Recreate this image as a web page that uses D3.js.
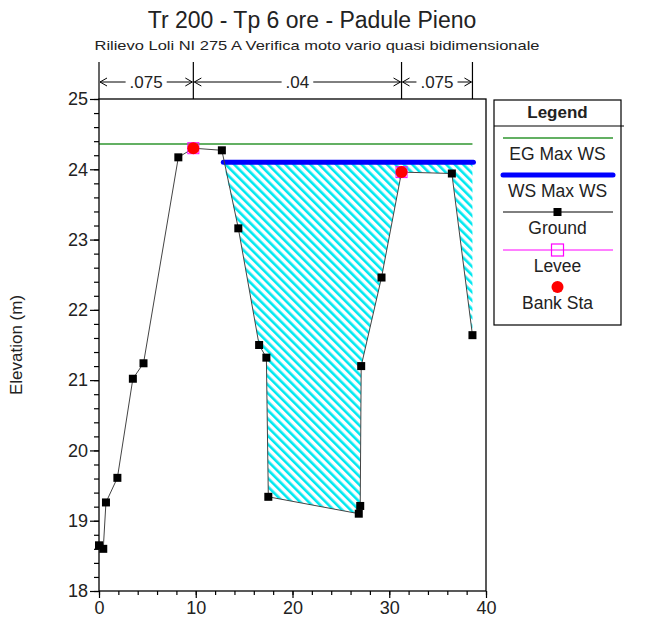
<!DOCTYPE html>
<html>
<head>
<meta charset="utf-8">
<script src="https://cdn.jsdelivr.net/npm/d3@7"></script>
<style>
  body { margin: 0; background: #fff; }
  text { font-family: "Liberation Sans", Arial, sans-serif; fill: #222; }
</style>
</head>
<body>
<svg id="chart" width="646" height="620"></svg>
<script>
// cross section data (station m, elevation m)
const stations = [0, 0.44, 0.72, 1.9, 3.5, 4.6, 8.2, 9.75, 12.7, 14.4, 16.55, 17.3, 17.5, 26.85, 27.0, 27.1, 29.2, 31.27, 36.47, 38.6];
const ground   = [18.65, 18.60, 19.26, 19.61, 21.02, 21.24, 24.17, 24.30, 24.27, 23.16, 21.50, 21.32, 19.34, 19.10, 19.21, 21.20, 22.46, 23.96, 23.94, 21.64];

const levee = [[9.75, 24.30], [31.27, 23.96]];
const bankSta = [[9.75, 24.30], [31.27, 23.96]];

const egMaxWs = 24.36, egRange = [0, 38.6];
const wsMaxWs = 24.10, wsRange = [12.85, 38.7];

// manning n values between break stations
const nBreaks = [0, 9.75, 31.27, 38.6];
const nValues = [".075", ".04", ".075"];

const xTicks = [0, 10, 20, 30, 40];
const yTicks = [18, 19, 20, 21, 22, 23, 24, 25];

const legendItems = ["EG Max WS", "WS Max WS", "Ground", "Levee", "Bank Sta"];

const svg = d3.select('#chart');
const pLeft = 99, pRight = 486, pTop = 99, pBottom = 591;

const x = d3.scaleLinear().domain([0, 40]).range([pLeft, pRight]);
const y = d3.scaleLinear().domain([18, 25]).range([pBottom, pTop]);

// hatch pattern for the water area
const defs = svg.append('defs');
const pat = defs.append('pattern')
    .attr('id', 'hatch')
    .attr('patternUnits', 'userSpaceOnUse')
    .attr('width', 6).attr('height', 6)
    .attr('patternTransform', 'rotate(-45)');
pat.append('rect').attr('width', 6).attr('height', 6).attr('fill', '#fff');
pat.append('line')
    .attr('x1', 0).attr('y1', 0).attr('x2', 0).attr('y2', 6)
    .attr('stroke', '#00e8f0').attr('stroke-width', 5.2);

// titles
svg.append('text').attr('x', 312).attr('y', 28)
    .attr('text-anchor', 'middle').style('font-size', '23px')
    .text('Tr 200 - Tp 6 ore - Padule Pieno');
svg.append('text').attr('x', 317).attr('y', 50)
    .attr('text-anchor', 'middle').style('font-size', '13.5px')
    .attr('textLength', 445).attr('lengthAdjust', 'spacingAndGlyphs')
    .text('Rilievo Loli NI 275 A  Verifica moto vario quasi bidimensionale');

// water polygon: WS line over the ground from the left crossing to the end
const pts = stations.map((s, i) => [s, ground[i]]);
const water = [[wsRange[0], wsMaxWs]].concat(pts.filter(p => p[0] > wsRange[0]));
svg.append('path')
    .datum(water)
    .attr('fill', 'url(#hatch)')
    .attr('d', d3.area().x(d => x(d[0])).y0(y(wsMaxWs)).y1(d => y(d[1])));

// EG line
svg.append('line')
    .attr('x1', x(egRange[0])).attr('x2', x(egRange[1]))
    .attr('y1', y(egMaxWs)).attr('y2', y(egMaxWs))
    .attr('stroke', '#2f962f').attr('stroke-width', 1.3);

// WS line
svg.append('line')
    .attr('x1', x(wsRange[0])).attr('x2', x(wsRange[1]))
    .attr('y1', y(wsMaxWs)).attr('y2', y(wsMaxWs))
    .attr('stroke', '#0000ff').attr('stroke-width', 5).attr('stroke-linecap', 'round');

// ground
svg.append('path')
    .datum(pts)
    .attr('fill', 'none').attr('stroke', '#444').attr('stroke-width', 1)
    .attr('d', d3.line().x(d => x(d[0])).y(d => y(d[1])));
svg.selectAll('.gpt').data(pts).enter().append('rect')
    .attr('x', d => x(d[0]) - 4).attr('y', d => y(d[1]) - 4)
    .attr('width', 8).attr('height', 8).attr('fill', '#000');

// levee and bank stations
svg.selectAll('.lev').data(levee).enter().append('rect')
    .attr('x', d => x(d[0]) - 5.5).attr('y', d => y(d[1]) - 5.5)
    .attr('width', 11).attr('height', 11)
    .attr('fill', 'none').attr('stroke', '#ff00ff').attr('stroke-width', 1);
svg.selectAll('.bank').data(bankSta).enter().append('circle')
    .attr('cx', d => x(d[0])).attr('cy', d => y(d[1])).attr('r', 6)
    .attr('fill', '#ff0000');

// frame
svg.append('rect').attr('x', pLeft).attr('y', pTop)
    .attr('width', pRight - pLeft).attr('height', pBottom - pTop)
    .attr('fill', 'none').attr('stroke', '#000').attr('stroke-width', 1.3);

// axes
const xAxis = svg.append('g').attr('transform', `translate(0,${pBottom})`);
xAxis.call(d3.axisBottom(x).tickValues(d3.range(0, 41, 2)).tickSize(4).tickFormat(''));
xAxis.call(g => g.selectAll('.domain').remove());
const xMaj = svg.append('g').attr('transform', `translate(0,${pBottom})`)
    .call(d3.axisBottom(x).tickValues(xTicks).tickSize(7).tickPadding(3).tickFormat(d3.format('d')));
xMaj.select('.domain').remove();
xMaj.selectAll('text').style('font-size', '18px').style('font-family', '"Liberation Sans", Arial, sans-serif').attr('fill', '#222');

const yAxis = svg.append('g').attr('transform', `translate(${pLeft},0)`);
yAxis.call(d3.axisLeft(y).tickValues(d3.range(18, 25.01, 0.2)).tickSize(5).tickFormat(''));
yAxis.call(g => g.selectAll('.domain').remove());
const yMaj = svg.append('g').attr('transform', `translate(${pLeft},0)`)
    .call(d3.axisLeft(y).tickValues(yTicks).tickSize(9).tickPadding(2).tickFormat(d3.format('d')));
yMaj.select('.domain').remove();
yMaj.selectAll('text').style('font-size', '18px').style('font-family', '"Liberation Sans", Arial, sans-serif').attr('fill', '#222');
svg.selectAll('.tick line').attr('stroke', '#000').attr('stroke-width', 1.2);

svg.append('text')
    .attr('transform', `translate(22,${(pTop + pBottom) / 2}) rotate(-90)`)
    .attr('text-anchor', 'middle').style('font-size', '17px')
    .text('Elevation (m)');

// n-value brackets above the plot
const nTop = 62, nMid = 82;
svg.selectAll('.nb').data(nBreaks).enter().append('line')
    .attr('x1', d => x(d)).attr('x2', d => x(d))
    .attr('y1', nTop).attr('y2', pTop)
    .attr('stroke', '#000').attr('stroke-width', 1.2);
nValues.forEach((v, i) => {
  const x0 = x(nBreaks[i]), x1 = x(nBreaks[i + 1]), cx = (x0 + x1) / 2;
  const t = svg.append('text').attr('x', cx).attr('y', nMid + 6)
      .attr('text-anchor', 'middle').style('font-size', '17px').text(v);
  const w = t.node().getComputedTextLength() / 2 + 4;
  const g = svg.append('g').attr('stroke', '#000').attr('stroke-width', 1).attr('fill', 'none');
  g.append('line').attr('x1', x0 + 1).attr('x2', cx - w).attr('y1', nMid).attr('y2', nMid);
  g.append('line').attr('x1', cx + w).attr('x2', x1 - 1).attr('y1', nMid).attr('y2', nMid);
  g.append('path').attr('d', `M${x0 + 8},${nMid - 4} L${x0 + 1},${nMid} L${x0 + 8},${nMid + 4}`);
  g.append('path').attr('d', `M${x1 - 8},${nMid - 4} L${x1 - 1},${nMid} L${x1 - 8},${nMid + 4}`);
});

// legend
const lg = svg.append('g');
const lx0 = 494, lx1 = 621, ly0 = 100, ly1 = 325;
lg.append('rect').attr('x', lx0).attr('y', ly0).attr('width', lx1 - lx0).attr('height', ly1 - ly0)
    .attr('fill', '#fff').attr('stroke', '#000').attr('stroke-width', 1.2);
lg.append('line').attr('x1', lx0).attr('x2', lx1 + 3).attr('y1', 126).attr('y2', 126)
    .attr('stroke', '#000').attr('stroke-width', 1.2);
lg.append('text').attr('x', (lx0 + lx1) / 2).attr('y', 118).attr('text-anchor', 'middle')
    .style('font-size', '17px').style('font-weight', 'bold').text('Legend');

const lcx = (lx0 + lx1) / 2, lxa = 503, lxb = 613;
const rowY = [138, 175, 212, 250, 287];
legendItems.forEach((name, i) => {
  const ry = rowY[i];
  if (i === 0) lg.append('line').attr('x1', lxa).attr('x2', lxb).attr('y1', ry).attr('y2', ry)
      .attr('stroke', '#2f962f').attr('stroke-width', 1.3);
  if (i === 1) lg.append('line').attr('x1', lxa).attr('x2', lxb).attr('y1', ry).attr('y2', ry)
      .attr('stroke', '#0000ff').attr('stroke-width', 5).attr('stroke-linecap', 'round');
  if (i === 2) {
    lg.append('line').attr('x1', lxa).attr('x2', lxb).attr('y1', ry).attr('y2', ry)
        .attr('stroke', '#000').attr('stroke-width', 1);
    lg.append('rect').attr('x', lcx - 4).attr('y', ry - 4).attr('width', 8).attr('height', 8).attr('fill', '#000');
  }
  if (i === 3) {
    lg.append('line').attr('x1', lxa).attr('x2', lxb).attr('y1', ry).attr('y2', ry)
        .attr('stroke', '#ff00ff').attr('stroke-width', 1);
    lg.append('rect').attr('x', lcx - 6).attr('y', ry - 6).attr('width', 12).attr('height', 12)
        .attr('fill', 'none').attr('stroke', '#ff00ff').attr('stroke-width', 1.2);
  }
  if (i === 4) lg.append('circle').attr('cx', lcx).attr('cy', ry).attr('r', 6).attr('fill', '#ff0000');
  lg.append('text').attr('x', lcx).attr('y', ry + 22).attr('text-anchor', 'middle')
      .style('font-size', '17.5px').text(name);
});
</script>
</body>
</html>
